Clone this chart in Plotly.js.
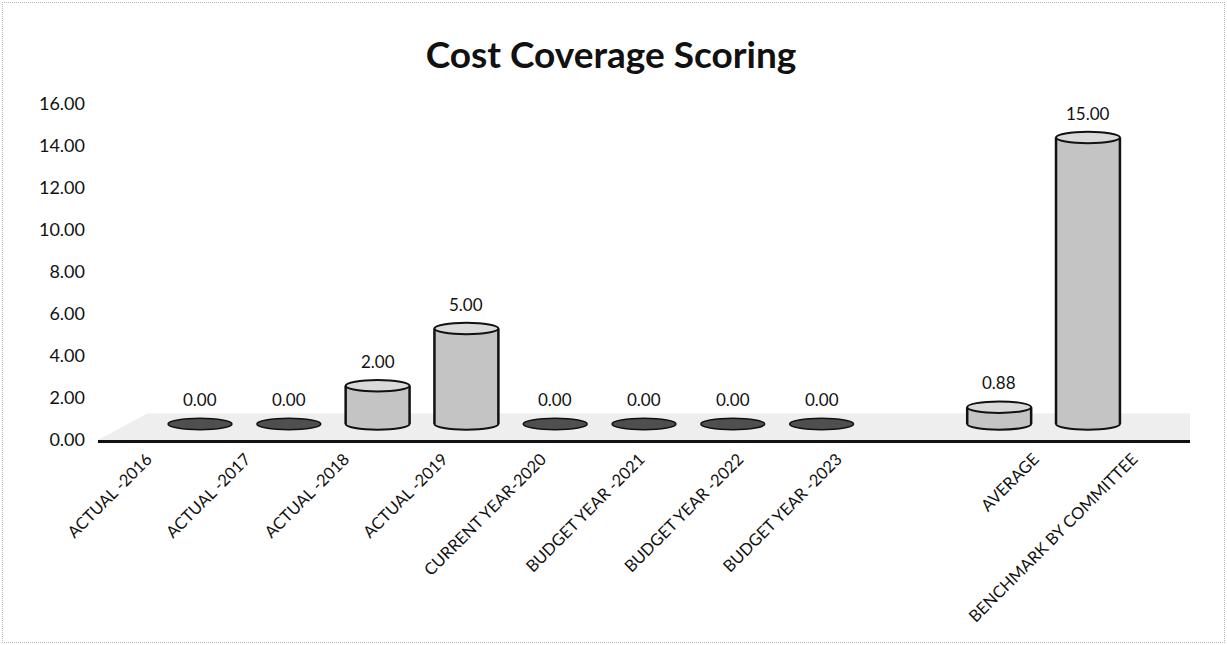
<!DOCTYPE html>
<html>
<head>
<meta charset="utf-8">
<script src="https://cdn.plot.ly/plotly-3.0.1.min.js"></script>
<style>
  html, body { margin: 0; padding: 0; background: #ffffff; }
  #wrap { position: relative; width: 1227px; height: 645px; }
  #chart { width: 1227px; height: 645px; }
  #frame { position: absolute; left: 2px; top: 2px; right: 2px; bottom: 2px;
           border: 1px dotted #b8b8b8; pointer-events: none; }
</style>
</head>
<body>
<div id="wrap">
  <div id="chart"></div>
  <div id="frame"></div>
</div>
<script>
// Scoring categories (the empty one is a spacer slot before the summary columns)
const categories = [
  'ACTUAL -2016', 'ACTUAL -2017', 'ACTUAL -2018', 'ACTUAL -2019',
  'CURRENT YEAR-2020', 'BUDGET YEAR -2021', 'BUDGET YEAR -2022',
  'BUDGET YEAR -2023', '', 'AVERAGE', 'BENCHMARK BY COMMITTEE'
];
const scores = [0, 0, 2, 5, 0, 0, 0, 0, null, 0.88, 15];
const yTicks = [0, 2, 4, 6, 8, 10, 12, 14, 16];

const idx = categories.map((_, i) => i);

// Cylinder geometry (in axis units of the back "wall" axes x2 / y2)
const barWidth = 0.72;
const capHalf = 0.3;
const bodyColor = '#c4c4c4';
const capColor = '#dadada';
const flatColor = '#4f4f4f';
const edge = '#111111';

const font = 'Lato, "Open Sans", sans-serif';

// front axes carry the category labels and the value scale
const frontAxes = {
  type: 'scatter', mode: 'none',
  x: [], y: [],
  xaxis: 'x', yaxis: 'y',
  hoverinfo: 'skip', showlegend: false
};

const bars = {
  type: 'bar',
  x: idx,
  y: scores,
  xaxis: 'x2',
  yaxis: 'y2',
  width: barWidth,
  marker: { color: bodyColor, line: { width: 0 } },
  hoverinfo: 'skip',
  showlegend: false
};

const shapes = [];
// floor of the 3D plot
shapes.push({
  type: 'path', xref: 'paper', yref: 'y2', layer: 'below',
  path: 'M 0,-0.838 L 1,-0.838 L 1,0.55 L 0.045,0.55 Z',
  fillcolor: '#eeeeee', line: { width: 0 }
});

const annotations = [];

scores.forEach((v, i) => {
  if (v === null) return;
  const x0 = i - barWidth / 2;
  const x1 = i + barWidth / 2;
  if (v === 0) {
    shapes.push({
      type: 'circle', xref: 'x2', yref: 'y2', layer: 'above',
      x0: x0, x1: x1, y0: -capHalf, y1: capHalf,
      fillcolor: flatColor, line: { color: edge, width: 1.5 }
    });
  } else {
    // bottom rim
    shapes.push({
      type: 'circle', xref: 'x2', yref: 'y2', layer: 'below',
      x0: x0, x1: x1, y0: -capHalf, y1: capHalf,
      fillcolor: bodyColor, line: { color: edge, width: 2 }
    });
    // sides
    [x0, x1].forEach(xs => shapes.push({
      type: 'line', xref: 'x2', yref: 'y2', layer: 'above',
      x0: xs, x1: xs, y0: 0, y1: v,
      line: { color: edge, width: 2.5 }
    }));
    // top cap
    shapes.push({
      type: 'circle', xref: 'x2', yref: 'y2', layer: 'above',
      x0: x0, x1: x1, y0: v - capHalf, y1: v + capHalf,
      fillcolor: capColor, line: { color: edge, width: 2 }
    });
  }
  annotations.push({
    x: i, y: v, xref: 'x2', yref: 'y2',
    text: v.toFixed(2), showarrow: false,
    yanchor: 'bottom', yshift: 12,
    font: { family: font, size: 17, color: '#111111' }
  });
});

const layout = {
  width: 1227,
  height: 645,
  margin: { l: 98, r: 37, t: 104, b: 205 },
  paper_bgcolor: '#ffffff',
  plot_bgcolor: 'rgba(0,0,0,0)',
  title: {
    text: 'Cost Coverage Scoring',
    xref: 'container', x: 0.498, xanchor: 'center',
    yref: 'container', y: 0.915, yanchor: 'middle',
    font: { family: font, size: 37, color: '#111111', weight: 700 }
  },
  xaxis: {
    range: [-0.5, 10.58],
    anchor: 'y',
    tickmode: 'array', tickvals: idx, ticktext: categories,
    tickangle: -45,
    tickfont: { family: font, size: 16.5, color: '#111111' },
    showline: true, linecolor: '#111111', linewidth: 3,
    showgrid: false, zeroline: false, ticks: '', fixedrange: true
  },
  xaxis2: {
    overlaying: 'x', anchor: 'y2', range: [-1.149, 11.149],
    visible: false, fixedrange: true
  },
  yaxis: {
    range: [0, 16],
    anchor: 'x',
    tickmode: 'array', tickvals: yTicks,
    ticktext: yTicks.map(t => t.toFixed(2)),
    tickfont: { family: font, size: 18, color: '#111111' },
    ticklabelstandoff: 12,
    showline: false, showgrid: false, zeroline: false, ticks: '', fixedrange: true
  },
  yaxis2: {
    overlaying: 'y', anchor: 'x2', range: [-0.838, 16.754],
    visible: false, fixedrange: true
  },
  shapes: shapes,
  annotations: annotations,
  showlegend: false
};

Plotly.newPlot('chart', [frontAxes, bars], layout, { displayModeBar: false, staticPlot: true });
</script>
</body>
</html>
